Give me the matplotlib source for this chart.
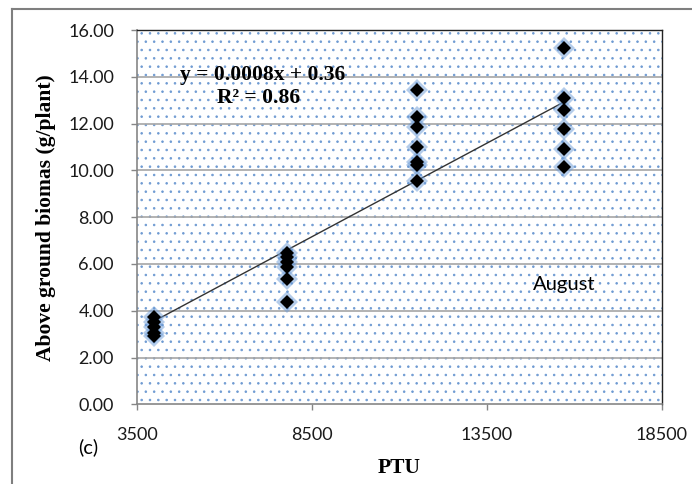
import matplotlib.pyplot as plt
import matplotlib.patches as mpatches
import matplotlib.lines as mlines
import numpy as np

# PTU for each sampling date and the biomass readings taken at it
ptu = [4000, 7780, 11500, 15700]
biomass = [
    [3.75, 3.50, 3.30, 3.05, 2.90],
    [6.48, 6.28, 6.07, 5.86, 5.36, 4.38],
    [13.45, 12.30, 11.85, 11.00, 10.35, 10.25, 9.55],
    [15.25, 13.10, 12.60, 11.75, 10.90, 10.15],
]
slope, intercept = 0.0008, 0.36
y_ticks = [0, 2, 4, 6, 8, 10, 12, 14, 16]
x_ticks = [3500, 8500, 13500, 18500]

# flatten into points
xs = []
ys = []
for p, vals in zip(ptu, biomass):
    xs += [p] * len(vals)
    ys += vals

plt.rcParams['hatch.linewidth'] = 0.6

fig = plt.figure(figsize=(6.92, 4.84), dpi=100)
ax = fig.add_axes([0.1977, 0.1647, 0.7587, 0.7733])

# dotted pattern fill of the plot area
ax.patch.set_facecolor('white')
bg = mpatches.Rectangle((0, 0), 1, 1, transform=ax.transAxes, facecolor='white',
                        edgecolor='#6e9ad2', hatch='..', linewidth=0, zorder=0)
ax.add_patch(bg)

for yv in y_ticks[1:-1]:
    ax.axhline(yv, color='#a6a6a6', linewidth=1.2, zorder=1)

# trend line
xl = np.array([min(xs), max(xs)])
ax.plot(xl, slope * xl + intercept, color='#333333', linewidth=1.0, zorder=3)

# markers with blue glow
ax.plot(xs, ys, linestyle='none', marker='D', markersize=11, color='#6a9ad6',
        alpha=0.5, markeredgewidth=0, zorder=4)
ax.plot(xs, ys, linestyle='none', marker='D', markersize=7.5, color='black',
        markeredgewidth=0, zorder=5)

ax.set_xlim(3500, 18500)
ax.set_ylim(0, 16)
ax.set_xticks(x_ticks)
ax.set_yticks(y_ticks)
ax.set_yticklabels(['%.2f' % v for v in y_ticks])
ax.tick_params(axis='both', direction='out', length=4.5, width=1, color='#868686',
               labelsize=13, labelcolor='#1a1a1a')
ax.tick_params(axis='x', pad=12)
ax.tick_params(axis='y', pad=12)
for lab in ax.get_xticklabels() + ax.get_yticklabels():
    lab.set_fontfamily('Lato')

for side in ['top', 'right']:
    ax.spines[side].set_color('#222222')
    ax.spines[side].set_linewidth(1.0)
for side in ['left', 'bottom']:
    ax.spines[side].set_color('#868686')
    ax.spines[side].set_linewidth(1.2)

ax.set_xlabel('PTU', fontfamily='Liberation Serif', fontweight='bold', fontsize=15.5, labelpad=11)
ax.set_ylabel('Above ground biomas (g/plant)', fontfamily='Liberation Serif',
              fontweight='bold', fontsize=15.5, labelpad=9)

ax.text(0.24, 0.88, 'y = 0.0008x + 0.36', transform=ax.transAxes, ha='center', va='center',
        fontfamily='Liberation Serif', fontweight='bold', fontsize=15.5, zorder=6)
ax.text(0.232, 0.818, 'R² = 0.86', transform=ax.transAxes, ha='center', va='center',
        fontfamily='Liberation Serif', fontweight='bold', fontsize=15.5, zorder=6)
ax.text(0.814, 0.321, 'August', transform=ax.transAxes, ha='center', va='center',
        fontfamily='Lato', fontsize=14.5, zorder=6)
fig.text(78 / 692, 1 - 447 / 484, '(c)', ha='left', va='center', fontfamily='Lato', fontsize=14.5)

# outer chart frame
fig.add_artist(mlines.Line2D([12 / 692, 12 / 692], [0, 1 - 9 / 484], color='#7f7f7f', linewidth=1.5))
fig.add_artist(mlines.Line2D([12 / 692, 1], [1 - 9 / 484, 1 - 9 / 484], color='#7f7f7f', linewidth=1.5))

fig.savefig('out.png', dpi=100)
